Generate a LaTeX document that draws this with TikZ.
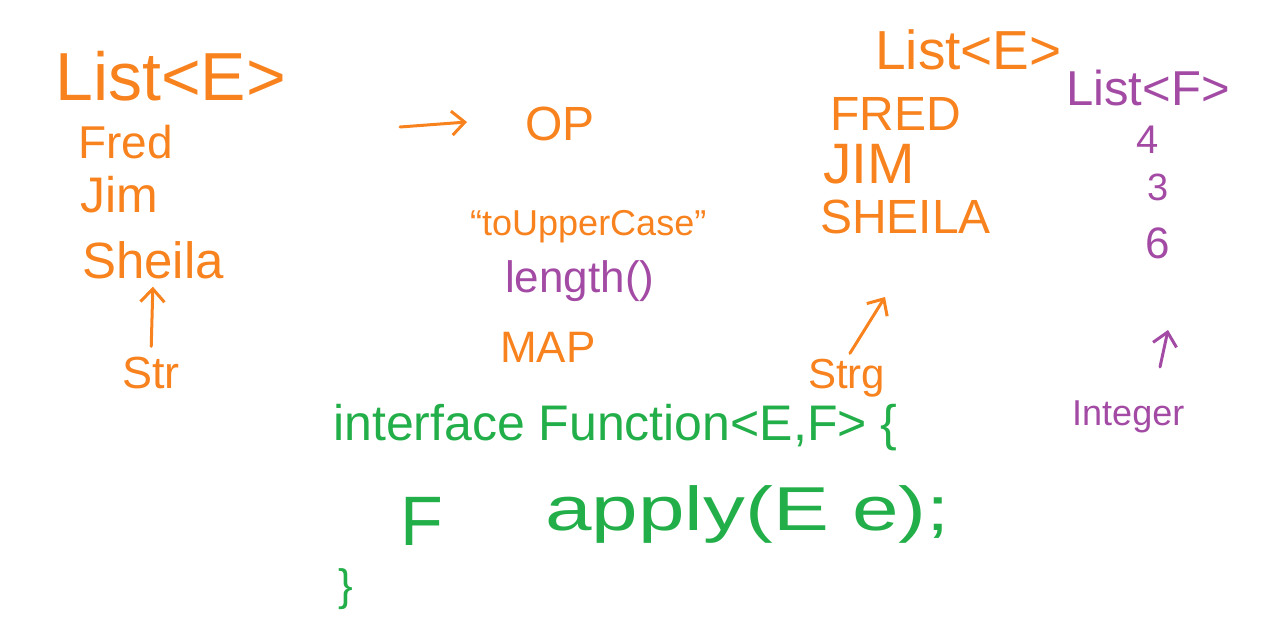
\documentclass[tikz,border=0pt]{standalone}
\usepackage{fontspec}
\setmainfont{Liberation Sans}
\usepackage{tikz}
\usetikzlibrary{arrows.meta,positioning}
\definecolor{penorange}{HTML}{F7821E}
\definecolor{pengreen}{HTML}{22AE48}
\definecolor{penpurple}{HTML}{A34BA4}
\newcommand{\pen}[1]{\fontsize{#1}{#1}\selectfont}

\begin{document}
\begin{tikzpicture}[x=1pt,y=-1pt,>={Straight Barb[length=13pt,width=24pt]}]
\tikzset{word/.style={inner sep=0pt,anchor=base west,text=penorange}, num/.style={word,text=penpurple}, code/.style={word,text=pengreen}, arr/.style={->,draw=penorange,line width=3pt,line cap=round,line join=round}}
\useasboundingbox (0,0) rectangle (1268,634);
% input list
\node[word] (listE) at (55,100) {\pen{68}List<E>};
\node[word] (fred) at (78,158) {\pen{46}Fred};
\node[word] (jim) at (80,212) {\pen{50}Jim};
\node[word] (sheila) at (82,278) {\pen{51}Sheila};
\node[word] (strL) at (122,388) {\pen{45}Str};
\draw[arr,shorten <=10pt,shorten >=8pt] (strL.north) -- (sheila.south);
% the operation
\coordinate (opFrom) at (400,127);
\coordinate (opTo) at (467,122);
\draw[arr] (opFrom) -- (opTo);
\node[word] (op) at (525,140) {\pen{48}OP};
\node[word] (upper) at (470,235) {\pen{36}``toUpperCase''};
\node[num] (len) at (505,292) {\pen{44}length()};
\node[word] (map) at (500,362) {\pen{44}MAP};
% result of toUpperCase
\node[word] (listU) at (875,70) {\pen{55}List<E>};
\node[word] (fredU) at (830,130) {\pen{48}FRED};
\node[word] (jimU) at (823,183) {\pen{57}JIM};
\node[word] (sheilaU) at (820,233) {\pen{48}SHEILA};
\node[word] (strg) at (808,388) {\pen{42}Strg};
\coordinate (tipM) at (885,297);
\draw[arr,shorten <=6pt] (strg.north) -- (tipM);
% result of length()
\node[num] (listF) at (1066,105) {\pen{49}List<F>};
\node[num] (four) at (1136,153) {\pen{40}4};
\node[num] (three) at (1147,200) {\pen{38}3};
\node[num] (six) at (1145,258) {\pen{44}6};
\node[num] (integer) at (1072,425) {\pen{36}Integer};
\coordinate (tailR) at (1160,367);
\coordinate (tipR) at (1168,330);
\draw[arr,draw=penpurple] (tailR) -- (tipR);
% the interface
\node[code] (iface) at (333,440) {\pen{50}interface Function<E,F> \{};
\node[code] (retF) at (400,545) {\pen{70}F};
\node[code] (apply) at (545,530) {\pen{62}\scalebox{1.35}[1]{apply(E e);}};
\node[code] (close) at (338,600) {\pen{44}\}};
\end{tikzpicture}
\end{document}
